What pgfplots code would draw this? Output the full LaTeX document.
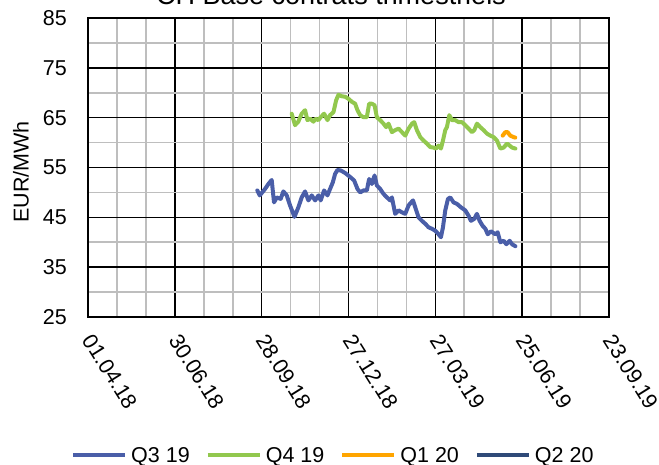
\documentclass[border=0pt]{standalone}
\usepackage{fontspec}
\setmainfont{Liberation Sans}
\usepackage{pgfplots}
\usepackage{pgfplotstable}
\pgfplotsset{compat=1.18}
\definecolor{cBlue}{RGB}{74,94,168}
\definecolor{cGreen}{RGB}{146,200,78}
\definecolor{cOrange}{RGB}{255,165,0}
\definecolor{cDark}{RGB}{47,74,120}
\definecolor{cGrid}{RGB}{190,190,190}

\pgfplotstableread{
d v
175.5 50.4
178 49.4
183.5 50.7
187 51.7
190.4 52.5
192.8 48.0
195.6 49.0
199.7 48.7
202.5 50.2
206 49.4
209.4 47.4
214 45.1
218 47.0
221.5 49.0
225 50.2
228.4 48.4
231.9 49.4
235.4 48.4
238.8 49.4
241.2 48.4
244.7 50.4
248.2 49.4
250.9 50.7
253.7 52.0
256.1 53.7
258.5 54.5
262 54.4
266.5 53.9
271.7 53.1
275.8 52.4
279.3 50.7
282.1 50.0
285.5 50.4
289 50.4
291.4 52.7
294.2 51.7
297 53.4
299.4 51.4
302.8 50.7
306.3 49.7
309.8 49.0
313.2 48.4
315 49.0
318.4 45.7
321.9 46.4
325.4 46.0
328.8 45.7
332.3 47.4
336.8 48.4
339.2 47.0
342.6 45.0
346.1 44.3
349.6 43.7
353 43.0
356.5 42.7
360 42.3
363.4 41.6
365.8 41.0
367.9 43.0
370.3 46.4
373.1 48.7
375.5 49.0
378.9 48.0
382.4 47.7
386.6 47.0
391 46.4
394.5 45.3
396.9 44.3
400.4 44.7
403.1 45.7
405.9 44.3
409 43.3
411.9 42.7
414.3 41.6
417.7 42.2
422.2 41.6
424.6 42.0
427.4 40.0
430.8 40.3
433.6 39.6
437 40.3
439.5 39.6
443 39.2
}\qthree

\pgfplotstableread{
d v
211.1 65.8
214.6 63.5
218 64.2
221.5 65.8
225 66.5
227.4 64.5
230.2 64.8
233.6 64.2
236.1 64.8
238.8 64.5
241.2 65.1
244.7 65.8
248.2 64.5
250.9 65.5
254.4 66.1
257.2 68.5
259.6 69.6
263 69.3
266.5 69.2
269.9 68.8
273.4 68.2
276.9 67.8
279.3 66.5
282.1 65.5
285.5 65.1
289 65.1
291.4 67.8
294.2 67.8
297 67.5
299.4 65.1
302.8 64.5
306.3 63.8
309 63.1
311.5 63.8
315 62.1
318.4 62.5
321.9 62.8
325.4 62.1
328.8 61.4
332.3 62.8
335.8 63.8
338.1 64.1
340.9 62.5
344.4 61.1
347.8 60.4
351.3 59.8
354.7 59.1
358.2 59.0
360.6 58.8
363.4 59.4
365.8 58.8
367.9 60.4
370.3 62.5
372 63.1
374.5 65.5
377.2 64.5
380.7 64.5
384.1 64.1
387.6 64.1
391 63.5
394.5 62.8
397.9 62.1
400.4 62.5
403.1 63.8
406.6 63.1
410 62.5
413.5 61.8
417 61.4
420.4 61.1
423.9 60.4
427.4 58.8
430.8 59.0
434.3 59.8
437 59.4
439.5 59.0
443 58.8
}\qfour

\pgfplotstableread{
d v
429.8 61.4
432.5 62.1
434.9 62.1
437.7 61.4
441.1 61.1
442.9 61.0
}\qone

\begin{document}
\begin{tikzpicture}[font=\fontsize{21.5}{25}\selectfont]
\begin{axis}[
  at={(88pt,147pt)}, anchor=south west,
  scale only axis, width=521pt, height=299pt,
  xmin=0, xmax=540, ymin=25, ymax=85,
  xtick={0,90,...,540},
  xticklabels={01.04.18,30.06.18,28.09.18,27.12.18,27.03.19,25.06.19,23.09.19},
  minor xtick={30,60,120,150,210,240,300,330,390,420,480,510},
  ytick={25,35,...,85},
  minor ytick={30,40,...,80},
  grid=both,
  major grid style={black, line width=1.6pt},
  minor grid style={cGrid, line width=1.6pt},
  axis line style={black, line width=1.6pt},
  major tick length=0pt, minor tick length=0pt,
  /pgf/number format/assume math mode=true,
  xticklabel style={rotate=-58, anchor=west, inner sep=0pt},
  xticklabel shift=19pt,
  yticklabel style={anchor=east, inner sep=0pt},
  yticklabel shift=21pt,
  ylabel={EUR/MWh},
  ylabel style={at={(axis description cs:-0.1286,0.485)}, anchor=center},
  legend style={at={(axis description cs:0.4700,-0.4630)}, anchor=center,
    draw=none, fill=none, legend columns=4,
    /tikz/every odd column/.append style={column sep=3pt},
    /tikz/every even column/.append style={column sep=15pt},
    nodes={inner sep=1pt}},
  legend cell align=left,
  legend image code/.code={\draw[#1, line width=4pt, line cap=butt] (0pt,0pt) -- (52pt,0pt);},
  every axis plot/.append style={line width=4pt, line join=round, line cap=round, mark=none},
]
\addplot[cBlue] table[x=d, y=v] {\qthree};
\addlegendentry{Q3 19}
\addplot[cGreen] table[x=d, y=v] {\qfour};
\addlegendentry{Q4 19}
\addplot[cOrange] table[x=d, y=v] {\qone};
\addlegendentry{Q1 20}
\addlegendimage{cDark}
\addlegendentry{Q2 20}
\end{axis}
\node[anchor=base, font=\fontsize{27}{32}\selectfont] at (331pt,459pt) {CH Base contrats trimestriels};
\pgfresetboundingbox
\useasboundingbox (0pt,0pt) rectangle (659pt,464pt);
\end{tikzpicture}
\end{document}
